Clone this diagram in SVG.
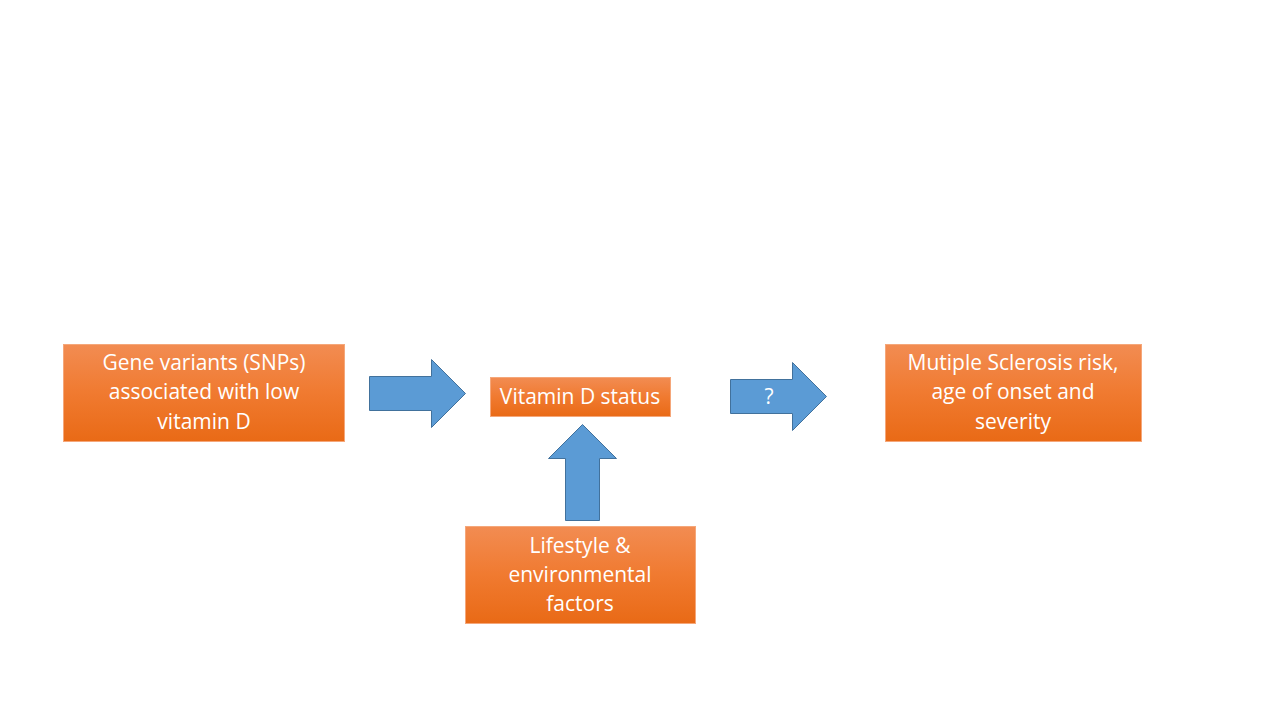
<svg xmlns="http://www.w3.org/2000/svg" width="1280" height="720" viewBox="0 0 1280 720">
<defs>
<linearGradient id="og" x1="0" y1="0" x2="0" y2="1">
<stop offset="0" stop-color="#F28C52"/>
<stop offset="0.5" stop-color="#F07A30"/>
<stop offset="1" stop-color="#E96A16"/>
</linearGradient>
<style>
.box{fill:url(#og);stroke:#F5A77A;stroke-width:1}
.arr{fill:#5B9BD5;stroke:#41719C;stroke-width:1}
.t{font-family:"Open Sans","Liberation Sans",sans-serif;font-size:21px;fill:#FFFFFF;text-anchor:middle}
</style>
</defs>
<rect width="1280" height="720" fill="#FFFFFF"/>
<g id="connectors">
<path class="arr" d="M369.5,376.5 H431.5 V359.5 L465.5,393.5 L431.5,427.5 V410.5 H369.5 Z"/>
<path class="arr" d="M730.5,379.5 H792.5 V362.5 L826.5,396.5 L792.5,430.5 V413.5 H730.5 Z"/>
<text class="t" x="769" y="404">?</text>
<path class="arr" d="M565.5,520.5 V458.5 H548.5 L582.5,424.5 L616.5,458.5 H599.5 V520.5 Z"/>
</g>
<g id="gene">
<rect class="box" x="63.5" y="344.5" width="281" height="97"/>
<text class="t" x="204" y="370">Gene variants (SNPs)</text>
<text class="t" x="204" y="399">associated with low</text>
<text class="t" x="204" y="429">vitamin D</text>
</g>
<g id="vitd">
<rect class="box" x="490.5" y="377.5" width="180" height="39"/>
<text class="t" x="580" y="404">Vitamin D status</text>
</g>
<g id="ms">
<rect class="box" x="885.5" y="344.5" width="256" height="97"/>
<text class="t" x="1013" y="370">Mutiple Sclerosis risk,</text>
<text class="t" x="1013" y="399">age of onset and</text>
<text class="t" x="1013" y="429">severity</text>
</g>
<g id="lifestyle">
<rect class="box" x="465.5" y="526.5" width="230" height="97"/>
<text class="t" x="580" y="553">Lifestyle &amp;</text>
<text class="t" x="580" y="582">environmental</text>
<text class="t" x="580" y="611">factors</text>
</g>
</svg>
